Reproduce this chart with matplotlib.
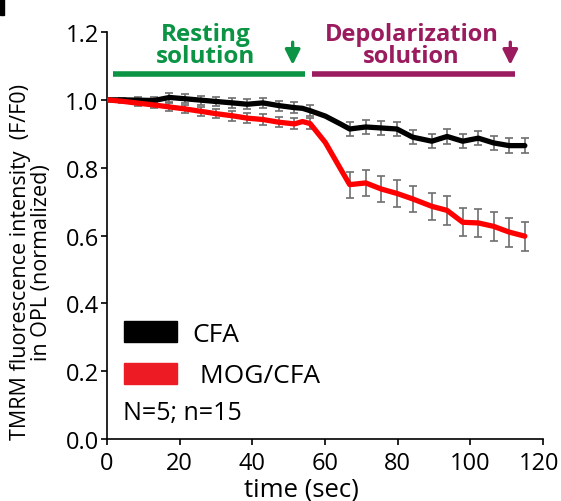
import numpy as np
import matplotlib
matplotlib.use('Agg')
import matplotlib.pyplot as plt
import matplotlib.transforms as mtransforms
from matplotlib.patches import Patch, Rectangle

plt.rcParams['font.family'] = ['Open Sans', 'DejaVu Sans']

# tempo (s) de cada quadro
tempo = [0, 4.0, 8.6, 12.9, 17.2, 21.6, 25.9, 30.1, 34.5, 38.6, 42.9, 47.3, 51.6, 53.8, 55.9,
         60.1, 64.4, 66.8, 71.2, 75.5, 79.8, 84.1, 89.4, 93.6, 97.9, 102.2, 106.4, 110.7, 115.0]
cfa = [1.0, 1.0, 0.999, 0.998, 1.007, 1.003, 0.999, 0.995, 0.991, 0.987, 0.991, 0.983, 0.977, 0.975, 0.968,
       0.952, 0.928, 0.914, 0.920, 0.917, 0.914, 0.890, 0.878, 0.892, 0.878, 0.887, 0.873, 0.865, 0.865]
cfa_err = [np.nan, 0.005, 0.008, 0.01, 0.012, 0.013, 0.013, 0.014, 0.014, 0.014, 0.015, 0.015, 0.016, np.nan, 0.017,
           np.nan, np.nan, 0.021, 0.02, 0.02, 0.021, 0.021, 0.021, 0.021, 0.021, 0.021, 0.021, 0.021, 0.021]
mog = [1.0, 0.996, 0.990, 0.985, 0.979, 0.973, 0.966, 0.959, 0.953, 0.946, 0.942, 0.934, 0.929, 0.936, 0.930,
       0.874, 0.794, 0.750, 0.755, 0.737, 0.724, 0.708, 0.686, 0.674, 0.639, 0.637, 0.627, 0.610, 0.598]
mog_err = [np.nan, 0.005, 0.008, 0.01, 0.012, 0.013, 0.013, 0.014, 0.014, 0.014, 0.015, 0.015, 0.016, np.nan, 0.017,
           np.nan, np.nan, 0.038, 0.038, 0.037, 0.039, 0.039, 0.039, 0.042, 0.041, 0.041, 0.043, 0.043, 0.043]

verde = '#0b9444'
roxo = '#9b1b5f'

fig = plt.figure(figsize=(5.61, 5.02), dpi=100)
ax = fig.add_axes([107/561, 62/502, 436/561, 407/502])

t = np.array(tempo)
for y, e, cor in [(cfa, cfa_err, 'black'), (mog, mog_err, '#ff0000')]:
    y = np.array(y); e = np.array(e)
    ok = ~np.isnan(e)
    ax.errorbar(t[ok], y[ok], yerr=e[ok], fmt='none', ecolor='#6e6e6e', elinewidth=1.2,
                capsize=2.6, capthick=1.2, zorder=2)
    ax.plot(t, y, color=cor, lw=3.8, solid_joinstyle='round', solid_capstyle='round', zorder=3)

ax.set_xlim(0, 120)
ax.set_ylim(0, 1.2)
ax.set_xticks(range(0, 121, 20))
ax.set_yticks(np.arange(0, 1.21, 0.2))
ax.set_yticklabels(['%.1f' % v for v in np.arange(0, 1.21, 0.2)])
ax.spines['top'].set_visible(False)
ax.spines['right'].set_visible(False)
for s in ['left', 'bottom']:
    ax.spines[s].set_linewidth(1.2)
ax.tick_params(direction='out', length=4, width=1.2, labelsize=17)
ax.tick_params(axis='x', pad=5)
ax.tick_params(axis='y', pad=2)
# "120" um pouco para a esquerda para não cortar na borda
ult = ax.get_xticklabels()[-1]
ult.set_transform(ult.get_transform() + mtransforms.ScaledTranslation(-4/100, 0, fig.dpi_scale_trans))

ax.set_xlabel('time (sec)', fontsize=18.5)
ax.xaxis.label.set_va('center')
ax.xaxis.set_label_coords(0.447, -0.122)
ax.set_ylabel('TMRM fluorescence intensity  (F/F0)\nin OPL (normalized)', fontsize=15.5, linespacing=1.0)
ax.yaxis.label.set_va('center')
ax.yaxis.set_label_coords(-0.174, 0.437)

# barras das soluções
ax.plot([1.6, 54.4], [1.075, 1.075], color=verde, lw=4, solid_capstyle='butt', clip_on=False)
ax.plot([56.3, 112.4], [1.075, 1.075], color=roxo, lw=4, solid_capstyle='butt', clip_on=False)
ax.text(27.2, 1.162, 'Resting\nsolution', color=verde, fontsize=17.5, fontweight='bold',
        ha='center', va='center', linespacing=0.9)
ax.text(83.8, 1.162, 'Depolarization\nsolution', color=roxo, fontsize=17, fontweight='bold',
        ha='center', va='center', linespacing=0.9)
for x, cor in [(51.1, verde), (111.0, roxo)]:
    ax.annotate('', xy=(x, 1.103), xytext=(x, 1.17),
                arrowprops=dict(arrowstyle='-|>,head_length=0.9,head_width=0.45', color=cor, lw=2.4,
                                shrinkA=0, shrinkB=0),
                annotation_clip=False)

handles = [Patch(color='black'), Patch(color='#ed1c24')]
ax.legend(handles, ['CFA', ' MOG/CFA'], loc='upper left', bbox_to_anchor=(0.039, 0.29),
          frameon=False, fontsize=19, handlelength=2.0, handleheight=0.87, handletextpad=0.6,
          labelspacing=0.6, borderpad=0, borderaxespad=0)
ax.text(0.036, 0.064, 'N=5; n=15', transform=ax.transAxes, fontsize=18, va='center')

fig.patches.append(Rectangle((0, 1 - 16/502), 4/561, 16/502, transform=fig.transFigure,
                             color='black', figure=fig))

fig.savefig('out.png', dpi=100)
